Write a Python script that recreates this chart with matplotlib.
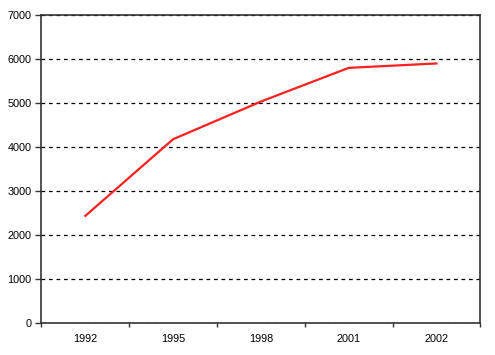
import matplotlib
matplotlib.use('Agg')
import matplotlib.pyplot as plt
import numpy as np

# Datos
anios = ['1992', '1995', '1998', '2001', '2002']
valores = [2440, 4180, 5035, 5800, 5900]

plt.rcParams['font.family'] = ['Liberation Sans', 'DejaVu Sans']

fig = plt.figure(figsize=(4.95, 3.55), dpi=100)
ax = fig.add_axes([0.0838, 0.0893, 0.8865, 0.8684])

x = np.arange(len(anios))
ax.plot(x, valores, color='#ff2020', linewidth=1.6, solid_joinstyle='miter')

ax.set_xlim(-0.5, len(anios) - 0.5)
ax.set_ylim(0, 7000)
ax.set_yticks(range(0, 7001, 1000))

# Etiquetas de categoría centradas, marcas entre categorías
ax.set_xticks(np.arange(-0.5, len(anios), 1.0))
ax.set_xticklabels([])
ax.set_xticks(x, minor=True)
ax.set_xticklabels(anios, minor=True)
ax.tick_params(axis='x', which='major', direction='out', length=3, width=1, color='#333333')
ax.tick_params(axis='x', which='minor', length=0, pad=8, labelsize=7.8)
ax.tick_params(axis='y', direction='out', length=4, width=1, color='#333333', labelsize=7.8, pad=3)

for s in ax.spines.values():
    s.set_color('#333333')
    s.set_linewidth(1.2)

ax.yaxis.grid(True, linestyle=(0, (3, 3)), color='black', linewidth=0.9)
ax.set_axisbelow(True)

fig.savefig('out.png', dpi=100)
